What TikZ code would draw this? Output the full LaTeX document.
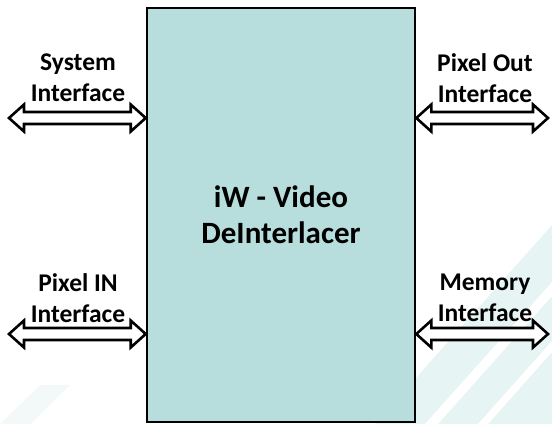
\documentclass[tikz,border=0pt]{standalone}
\usepackage{fontspec}
\setmainfont{Carlito}
\usetikzlibrary{calc}
\definecolor{boxfill}{HTML}{B7DEDD}
\definecolor{stripe}{HTML}{E6F4F3}
\tikzset{
  lbl/.style={align=center, inner sep=0pt, font=\bfseries\fontsize{25.5}{31}\selectfont},
  core/.style={draw=black, line width=2.6pt, fill=boxfill, inner sep=0pt,
    minimum width=268pt, minimum height=414pt, align=center,
    font=\bfseries\fontsize{31}{36}\selectfont},
  hollow/.style={draw=black, fill=white, line width=2.6pt, line join=miter,
    to path={let \p1=(\tikztostart), \p2=(\tikztotarget) in
      (\x1,\y1) -- (\x1+15pt,\y1+13.5pt) -- (\x1+15pt,\y1+6pt) -- (\x2-15pt,\y1+6pt)
      -- (\x2-15pt,\y1+13.5pt) -- (\x2,\y1) -- (\x2-15pt,\y1-13.5pt) -- (\x2-15pt,\y1-6pt)
      -- (\x1+15pt,\y1-6pt) -- (\x1+15pt,\y1-13.5pt) -- cycle}}
}
\begin{document}
\begin{tikzpicture}[x=1pt,y=-1pt]
\useasboundingbox (0,0) rectangle (552,424);
% faint background stripes
\begin{scope}
\clip (0,0) rectangle (552,424);
\fill[stripe] (375,424) -- (552,225) -- (552,424) -- cycle;
\fill[white] (425,424) -- (552,282) -- (552,296) -- (438,424) -- cycle;
\fill[white] (478,424) -- (552,341) -- (552,352) -- (488,424) -- cycle;
\fill[stripe!50] (0,424) -- (40,385) -- (70,385) -- (31,424) -- cycle;
\end{scope}
% central block
\node[core] (dut) at (281,215) {iW - Video\\DeInterlacer};
% end points of the interfaces
\coordinate (sysend) at (9,118);
\coordinate (pinend) at (9,334);
\coordinate (poend) at (548,118);
\coordinate (memend) at (548,334);
% connectors
\draw[hollow] (sysend) to (dut.west |- sysend);
\draw[hollow] (pinend) to (dut.west |- pinend);
\draw[hollow] (dut.east |- poend) to (poend);
\draw[hollow] (dut.east |- memend) to (memend);
% labels
\node[lbl] (syslbl) at (78,78) {System\\Interface};
\node[lbl] (pinlbl) at (78,298) {Pixel IN\\Interface};
\node[lbl] (polbl) at (485,78) {Pixel Out\\Interface};
\node[lbl] (memlbl) at (485,298) {Memory\\Interface};
\end{tikzpicture}
\end{document}
